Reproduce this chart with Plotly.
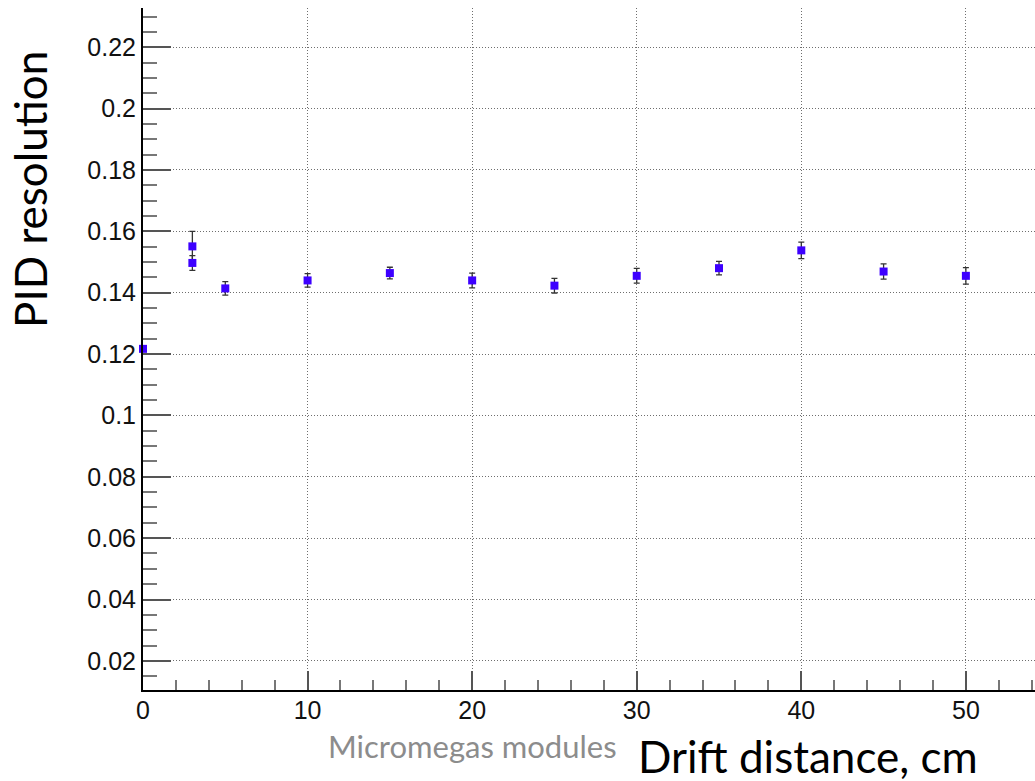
import plotly.graph_objects as go

# PID resolution versus drift distance
drift_cm = [0, 3, 3, 5, 10, 15, 20, 25, 30, 35, 40, 45, 50]
pid_resolution = [0.1217, 0.1551, 0.1497, 0.1414, 0.1440, 0.1464, 0.1440,
                  0.1423, 0.1455, 0.1480, 0.1538, 0.1469, 0.1455]
pid_error = [0.0, 0.0049, 0.0024, 0.0022, 0.0022, 0.0019, 0.0024,
             0.0024, 0.0024, 0.0022, 0.0027, 0.0025, 0.0027]

x_ticks = [0, 10, 20, 30, 40, 50]
x_tick_labels = ["0", "10", "20", "30", "40", "50"]
y_ticks = [0.02, 0.04, 0.06, 0.08, 0.10, 0.12, 0.14, 0.16, 0.18, 0.20, 0.22]
y_tick_labels = ["0.02", "0.04", "0.06", "0.08", "0.1", "0.12", "0.14",
                 "0.16", "0.18", "0.2", "0.22"]

W, H = 1035, 781
L, R, T, B = 143, 0, 8, 91
plot_w = W - L - R
plot_h = H - T - B


def px_x(px):
    return (px - L) / plot_w


def px_y(py):
    return (H - B - py) / plot_h


fig = go.Figure(
    go.Scatter(
        x=drift_cm,
        y=pid_resolution,
        mode="markers",
        marker=dict(symbol="square", size=8, color="#3d00ff",
                    line=dict(width=0)),
        error_y=dict(type="data", array=pid_error, color="#333333",
                     thickness=1.3, width=3),
        cliponaxis=False,
        showlegend=False,
    )
)

tick_font = dict(family="Liberation Sans, Arial, sans-serif", size=25,
                 color="#111111")
grid_dash = "1px,2px"

fig.update_xaxes(
    range=[0, 54.2],
    showline=True, linecolor="black", linewidth=2,
    ticks="inside", ticklen=19, tickwidth=2, tickcolor="#555555",
    tickmode="array", tickvals=x_ticks, ticktext=x_tick_labels,
    tickfont=tick_font, ticklabelstandoff=-3,
    showgrid=True, gridcolor="#6e6e6e", griddash=grid_dash, gridwidth=1,
    zeroline=False,
    minor=dict(tick0=0, dtick=2, ticks="inside", ticklen=10, tickwidth=2,
               tickcolor="#777777", showgrid=False),
)
fig.update_yaxes(
    range=[0.0105, 0.2328],
    showline=True, linecolor="black", linewidth=2,
    ticks="inside", ticklen=28, tickwidth=2, tickcolor="#555555",
    tickmode="array", tickvals=y_ticks, ticktext=y_tick_labels,
    tickfont=tick_font,
    showgrid=True, gridcolor="#6e6e6e", griddash=grid_dash, gridwidth=1,
    zeroline=False,
    minor=dict(tick0=0, dtick=0.005, ticks="inside", ticklen=14, tickwidth=2,
               tickcolor="#777777", showgrid=False),
)

fig.update_layout(
    width=W, height=H,
    margin=dict(l=L, r=R, t=T, b=B),
    paper_bgcolor="white", plot_bgcolor="white",
    annotations=[
        dict(text="PID resolution", textangle=-90, showarrow=False,
             xref="paper", yref="paper", x=px_x(30), y=px_y(190),
             xanchor="center", yanchor="middle",
             font=dict(family="Lato, sans-serif", size=44, color="black")),
        dict(text="Drift distance, cm", showarrow=False,
             xref="paper", yref="paper", x=px_x(808), y=px_y(756),
             xanchor="center", yanchor="middle",
             font=dict(family="Lato, sans-serif", size=44, color="black")),
        dict(text="Micromegas modules", showarrow=False,
             xref="paper", yref="paper", x=px_x(472), y=px_y(746),
             xanchor="center", yanchor="middle",
             font=dict(family="Lato, sans-serif", size=31, color="#8c8c8c")),
    ],
)

fig.write_html("out.html")
